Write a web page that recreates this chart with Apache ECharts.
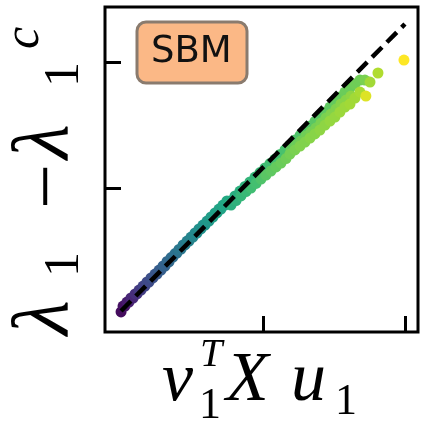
<!DOCTYPE html>
<html>
<head>
<meta charset="utf-8">
<script src="https://cdn.jsdelivr.net/npm/echarts@6/dist/echarts.min.js"></script>
<style>
html,body{margin:0;padding:0;background:#fff;}
#chart{width:422px;height:422px;}
</style>
</head>
<body>
<div id="chart"></div>
<script>
// x = v1^T X u1, y = lambda1 - lambda1^c, c = colour value (viridis)
const xs = [
0.000,0.028,0.056,0.085,0.113,0.141,0.169,0.197,0.225,0.254,0.282,0.310,0.338,0.366,0.394,0.423,0.451,0.479,0.507,0.535,0.563,0.592,0.620,0.648,0.676,0.704,0.732,
0.014,0.042,0.070,0.099,0.127,0.155,0.183,0.211,0.239,0.268,0.296,0.324,0.352,0.380,0.408,0.437,0.465,0.493,0.521,0.549,0.577,0.606,0.634,0.662,0.690,0.718,0.746,
0.768,0.775,0.803,0.810,0.838,0.845,0.873,0.880,0.908,0.915,0.944,0.951,0.979,0.986,1.014,1.021,1.049,1.056,1.085,1.092,1.120,1.127,1.155,1.162,
1.190,1.197,1.190,1.225,1.232,1.225,1.261,1.268,1.261,1.296,1.303,1.296,1.331,1.338,1.331,1.366,1.373,1.366,1.401,1.408,1.401,
1.437,1.444,1.437,1.472,1.479,1.472,1.507,1.514,1.507,1.542,1.549,1.542,1.577,1.585,1.577,1.613,1.620,1.613,
1.648,1.648,1.683,1.683,1.718,1.754,1.810,1.725,1.993
];
const ys = [
0.016,0.063,0.095,0.127,0.159,0.190,0.222,0.254,0.286,0.317,0.349,0.381,0.413,0.452,0.484,0.516,0.548,0.579,0.611,0.643,0.675,0.706,0.738,0.770,0.802,0.833,0.865,
0.063,0.095,0.127,0.159,0.190,0.222,0.254,0.286,0.317,0.349,0.381,0.417,0.448,0.480,0.512,0.548,0.579,0.611,0.643,0.675,0.706,0.738,0.770,0.802,0.833,0.865,0.897,
0.897,0.865,0.937,0.901,0.976,0.937,1.012,0.972,1.048,1.000,1.087,1.036,1.123,1.071,1.159,1.103,1.194,1.135,1.230,1.167,1.266,1.198,1.302,1.234,
1.341,1.310,1.270,1.381,1.341,1.302,1.417,1.373,1.333,1.452,1.413,1.365,1.492,1.444,1.397,1.528,1.476,1.429,1.563,1.516,1.460,
1.603,1.556,1.500,1.643,1.587,1.532,1.683,1.627,1.563,1.722,1.667,1.603,1.762,1.698,1.643,1.794,1.730,1.667,
1.825,1.714,1.857,1.762,1.857,1.841,1.913,1.730,2.016
];
const cs = [
0.03,0.06,0.09,0.12,0.15,0.18,0.21,0.23,0.25,0.28,0.30,0.32,0.34,0.36,0.38,0.40,0.42,0.44,0.46,0.48,0.50,0.52,0.54,0.56,0.57,0.58,0.60,
0.045,0.075,0.105,0.135,0.165,0.195,0.22,0.24,0.265,0.29,0.31,0.33,0.35,0.37,0.39,0.41,0.43,0.45,0.47,0.49,0.51,0.53,0.55,0.565,0.575,0.59,0.605,
0.61,0.63,0.62,0.64,0.63,0.66,0.64,0.67,0.65,0.69,0.66,0.70,0.67,0.72,0.68,0.74,0.69,0.75,0.70,0.76,0.70,0.77,0.71,0.78,
0.71,0.76,0.79,0.72,0.77,0.80,0.72,0.78,0.81,0.73,0.78,0.81,0.73,0.79,0.82,0.74,0.79,0.82,0.74,0.80,0.83,
0.75,0.80,0.83,0.75,0.81,0.84,0.76,0.81,0.84,0.76,0.82,0.85,0.77,0.82,0.85,0.77,0.83,0.86,
0.78,0.86,0.78,0.87,0.80,0.86,0.88,0.95,1.00
];
// identity reference line (dashed), endpoints
const refX = [0.000, 2.000];
const refY = [0.024, 2.302];
const xTicks = [1, 2];
const yTicks = [1, 2];
const boxLabel = 'SBM';

const viridis = ['#440154','#482475','#414487','#355f8d','#2a788e','#21918c','#22a884','#44bf70','#7ad151','#bddf26','#fde725'];

const pts = xs.map((x, i) => [x, ys[i], cs[i]]);
const refLine = refX.map((x, i) => [x, refY[i]]);

const chart = echarts.init(document.getElementById('chart'));
// text pieces positioned by their top-left corner
function t(x, y, text, size, italic) {
  const st = {text: text, fontFamily: '"Liberation Serif"', fontStyle: italic ? 'italic' : 'normal', fontSize: size, fill: '#000'};
  return {type: 'text', x: x, y: y, style: st};
}

const option = {
  animation: false,
  backgroundColor: '#fff',
  title: {
    text: boxLabel, left: 151, top: 34, padding: 0, z: 10,
    textStyle: {fontFamily: 'DejaVu Sans', fontSize: 37, fontWeight: 'normal', color: '#111'}
  },
  grid: {left: 105, top: 7, width: 313, height: 325, show: true, borderColor: '#000', borderWidth: 3, backgroundColor: 'transparent'},
  xAxis: {
    type: 'value', min: -0.113, max: 2.092,
    axisLine: {show: false, onZero: false},
    axisTick: {show: true, inside: true, length: 16, lineStyle: {color: '#000', width: 3}, customValues: xTicks},
    axisLabel: {show: false, customValues: xTicks},
    splitLine: {show: false}
  },
  yAxis: {
    type: 'value', min: -0.143, max: 2.437,
    axisLine: {show: false, onZero: false},
    axisTick: {show: true, inside: true, length: 16, lineStyle: {color: '#000', width: 3}, customValues: yTicks},
    axisLabel: {show: false, customValues: yTicks},
    splitLine: {show: false}
  },
  visualMap: {
    show: false, type: 'continuous', seriesIndex: 0, dimension: 2, min: 0, max: 1,
    inRange: {color: viridis}
  },
  series: [
    {
      type: 'scatter', data: pts, symbol: 'circle', symbolSize: 11,
      itemStyle: {opacity: 1}, z: 2
    },
    {
      type: 'line', data: refLine, symbol: 'none', z: 5,
      lineStyle: {color: '#000', width: 4.5, type: [14, 7]}
    }
  ],
  graphic: [
    // x label: v_1^T X u_1
    t(162, 347, 'v', 70, true),
    t(200, 335, 'T', 40, true),
    t(199, 384, '1', 44, false),
    t(226, 347, 'X', 70, true),
    t(291, 347, 'u', 70, true),
    t(335, 380, '1', 44, false),
    // y label: lambda_1 - lambda_1^c (rotated)
    {type: 'group', x: 70, y: 333, rotation: Math.PI / 2, children: [
      t(-2, -64, 'λ', 80, true),
      t(56, -30, '1', 50, false),
      t(124, -59, '−', 80, false),
      t(174, -64, 'λ', 80, true),
      t(246, -30, '1', 50, false),
      t(284, -70, 'c', 50, true)
    ]},
    {type: 'rect', z: 1, shape: {x: 137, y: 22, width: 110, height: 61, r: 9},
     style: {fill: '#fbb886', stroke: '#8a7b6e', lineWidth: 3}}
  ]
};
chart.setOption(option);
</script>
</body>
</html>
